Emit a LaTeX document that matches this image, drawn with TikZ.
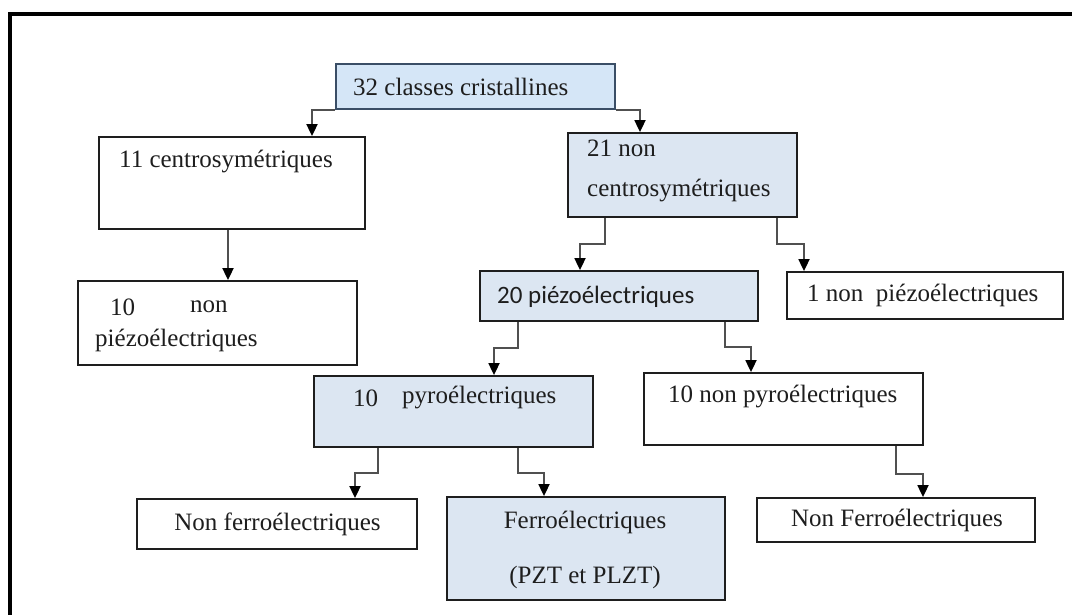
\documentclass[tikz,border=0pt]{standalone}
\usepackage{fontspec}
\setmainfont{Liberation Serif}
\newfontfamily\sansf{Carlito}
\usetikzlibrary{arrows.meta}
\definecolor{bluefill}{HTML}{DCE6F2}
\definecolor{topfill}{HTML}{D5E6F7}
\definecolor{topdraw}{HTML}{3A4E66}
\definecolor{linegray}{HTML}{505050}
\definecolor{inkc}{HTML}{1E1E1E}
\tikzset{
  box/.style={draw=inkc, line width=1.8pt, rectangle, inner sep=0pt, fill=white},
  bluebox/.style={box, fill=bluefill},
  txt/.style={inner sep=0pt, text=inkc, font=\fontsize{25}{30}\selectfont, anchor=west},
  conn/.style={draw=linegray, line width=1.8pt, -{Triangle[width=11pt,length=12pt,fill=black,color=black]}},
}
\begin{document}
\begin{tikzpicture}[x=1pt,y=-1pt]
\useasboundingbox (0,0) rectangle (1072,615);
\begin{scope}
\clip (0,0) rectangle (1072,615);
\fill[white] (0,0) rectangle (1072,615);
\draw[line width=3.2pt, black] (10,640) -- (10,14) -- (1100,14);
\end{scope}

% boxes
\node[box, fill=topfill, draw=topdraw, minimum width=279pt, minimum height=45pt] (b32) at (475.5,86.5) {};
\node[box, minimum width=266pt, minimum height=92pt] (b11) at (232,183) {};
\node[bluebox, minimum width=229pt, minimum height=84pt] (b21) at (682.5,175) {};
\node[box, minimum width=279pt, minimum height=84pt] (b10np) at (217.5,323) {};
\node[bluebox, minimum width=278pt, minimum height=50pt] (b20) at (619,296) {};
\node[box, minimum width=276pt, minimum height=47pt] (b1np) at (925,295.5) {};
\node[bluebox, minimum width=279pt, minimum height=71pt] (b10p) at (453.5,411.5) {};
\node[box, minimum width=279pt, minimum height=72pt] (bnp) at (783.5,409) {};
\node[box, minimum width=280pt, minimum height=50pt] (bnfl) at (277,524) {};
\node[bluebox, minimum width=278pt, minimum height=103pt] (bf) at (586,548.5) {};
\node[box, minimum width=278pt, minimum height=44pt] (bnfr) at (896,520) {};

% texts
\node[txt] (t32) at (353,87) {32 classes cristallines};
\node[txt] (t11) at (119,162) {11 centrosymétriques};
\node[txt] (t21a) at (587,148) {21 non};
\node[txt] (t21b) at (587,191) {centrosymétriques};
\node[txt] (t10a) at (110,307) {10};
\node[txt] (t10b) at (190,307) {non};
\node[txt] (t10c) at (95,340) {piézoélectriques};
\node[txt, font=\sansf\fontsize{25}{30}\selectfont] (t20) at (497,297) {20 piézoélectriques};
\node[txt] (t1np) at (807,295) {1 non\ \ piézoélectriques};
\node[txt] (tpa) at (353,398) {10};
\node[txt] (tpb) at (402,398) {pyroélectriques};
\node[txt] (tnp) at (668,397) {10 non pyroélectriques};
\node[txt, anchor=center] (tnfl) at (277.5,524) {Non ferroélectriques};
\node[txt, anchor=center] (tfa) at (585,522) {Ferroélectriques};
\node[txt, anchor=center] (tfb) at (585,577) {(PZT et PLZT)};
\node[txt, anchor=center] (tnfr) at (897,520) {Non Ferroélectriques};

% connectors
\draw[conn] (b32.south west) -| ([xshift=80pt]b11.north);
\draw[conn] (b32.south east) -| ([xshift=-42.5pt]b21.north);
\draw[conn] ([xshift=-4pt]b11.south) -- ([xshift=-4pt]b11.south |- b10np.north);
\draw[conn] ([xshift=-77.5pt]b21.south) -- ++(0,26) -| ([xshift=-39pt]b20.north);
\draw[conn] ([xshift=94.5pt]b21.south) -- ++(0,26) -| ([xshift=-121pt]b1np.north);
\draw[conn] ([xshift=-101pt]b20.south) -- ++(0,26) -| ([xshift=40.5pt]b10p.north);
\draw[conn] ([xshift=106pt]b20.south) -- ++(0,25) -| ([xshift=-32.5pt]bnp.north);
\draw[conn] ([xshift=-75.5pt]b10p.south) -- ++(0,25) -| ([xshift=78pt]bnfl.north);
\draw[conn] ([xshift=64.5pt]b10p.south) -- ++(0,25) -| ([xshift=-42pt]bf.north);
\draw[conn] ([xshift=112.5pt]bnp.south) -- ++(0,28) -| ([xshift=27pt]bnfr.north);
\end{tikzpicture}
\end{document}
